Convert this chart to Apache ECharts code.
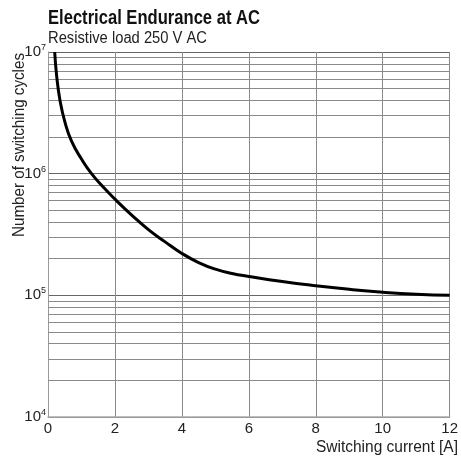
<!DOCTYPE html>
<html>
<head>
<meta charset="utf-8">
<script src="https://cdn.jsdelivr.net/npm/echarts@6/dist/echarts.min.js"></script>
<style>
html,body{margin:0;padding:0;background:#fff;}
#c{width:461px;height:459px;}
</style>
</head>
<body>
<div id="c"></div>
<script>
var currentA = [0.2, 0.26, 0.36, 0.5, 0.7, 1.0, 1.3, 1.65, 2.0, 2.5, 3.0, 3.5, 4.0, 4.5, 5.0, 5.5, 6.0, 7.0, 8.0, 9.0, 10.0, 11.0, 12.0];
var cycles = [1e7, 6.31e6, 3.98e6, 2.69e6, 1.86e6, 1.32e6, 1.0e6, 7.76e5, 6.17e5, 4.57e5, 3.47e5, 2.75e5, 2.21e5, 1.86e5, 1.64e5, 1.51e5, 1.43e5, 1.30e5, 1.20e5, 1.12e5, 1.06e5, 1.02e5, 1.0e5];
var xTicks = [0, 2, 4, 6, 8, 10, 12];
var yDecades = [4, 5, 6, 7];
var titleText = 'Electrical Endurance at AC';
var subtitleText = 'Resistive load 250 V AC';
var xName = 'Switching current [A]';
var yName = 'Number of switching cycles';

var FONT = '"Liberation Sans", Arial, sans-serif';

// measure text so condensed look can be approximated by horizontal scaling
var mctx = document.createElement('canvas').getContext('2d');
function fitScale(text, size, weight, target) {
  mctx.font = (weight || 'normal') + ' ' + size + 'px ' + FONT;
  var w = mctx.measureText(text).width;
  return target / w;
}

var minorLines = [];
for (var d = 0; d < yDecades.length - 1; d++) {
  for (var m = 2; m <= 9; m++) {
    minorLines.push({ yAxis: m * Math.pow(10, yDecades[d]) });
  }
}

var chart = echarts.init(document.getElementById('c'), null, { renderer: 'canvas' });
chart.setOption({
  animation: false,
  backgroundColor: '#fff',
  grid: { left: 48, right: 3, top: 52, bottom: 42, containLabel: false },
  xAxis: {
    type: 'value', min: 0, max: 12, interval: 2,
    axisLine: { show: true, lineStyle: { color: '#aaa', width: 1.5 } },
    axisTick: { show: false },
    axisLabel: { fontFamily: FONT, fontSize: 15, color: '#222', margin: 4, formatter: function (v) { return xTicks.indexOf(v) >= 0 ? String(v) : ''; } },
    splitLine: { show: true, lineStyle: { color: '#8a8a8a', width: 1 } }
  },
  yAxis: {
    type: 'log', logBase: 10, min: Math.pow(10, yDecades[0]), max: Math.pow(10, yDecades[yDecades.length - 1]),
    axisLine: { show: true, lineStyle: { color: '#999', width: 1 } },
    axisTick: { show: false },
    axisLabel: {
      margin: 2,
      formatter: function (v) {
        var e = Math.round(Math.log10(v));
        return '{b|10}{s|' + e + '}';
      },
      rich: {
        b: { fontFamily: FONT, fontSize: 15, color: '#222' },
        s: { fontFamily: FONT, fontSize: 9, color: '#222', padding: [0, 0, 9, 0] }
      }
    },
    splitLine: { show: true, lineStyle: { color: '#666', width: 1 } }
  },
  graphic: [
    { type: 'text', x: 48, y: 18, scaleX: fitScale(titleText, 20, 'bold', 212), style: { text: titleText, fontFamily: FONT, fontWeight: 'bold', fontSize: 20, fill: '#111', align: 'left', verticalAlign: 'middle' } },
    { type: 'text', x: 48, y: 39, scaleX: fitScale(subtitleText, 16, 'normal', 159), style: { text: subtitleText, fontFamily: FONT, fontSize: 16, fill: '#222', align: 'left', verticalAlign: 'middle' } },
    { type: 'text', x: 20, y: 145, rotation: Math.PI / 2, scaleX: fitScale(yName, 16, 'normal', 184), style: { text: yName, fontFamily: FONT, fontSize: 16, fill: '#222', align: 'center', verticalAlign: 'middle' } },
    { type: 'text', x: 458, y: 448, scaleX: fitScale(xName, 16, 'normal', 142), style: { text: xName, fontFamily: FONT, fontSize: 16, fill: '#222', align: 'right', verticalAlign: 'middle' } }
  ],
  series: [{
    type: 'line',
    data: currentA.map(function (x, i) { return [x, cycles[i]]; }),
    smooth: 0.5,
    symbol: 'none',
    lineStyle: { color: '#000', width: 3 },
    z: 5,
    markLine: {
      silent: true, symbol: 'none', animation: false,
      label: { show: false },
      lineStyle: { color: '#8a8a8a', width: 1, type: 'solid' },
      data: minorLines,
      z: 1
    }
  }]
});
</script>
</body>
</html>
